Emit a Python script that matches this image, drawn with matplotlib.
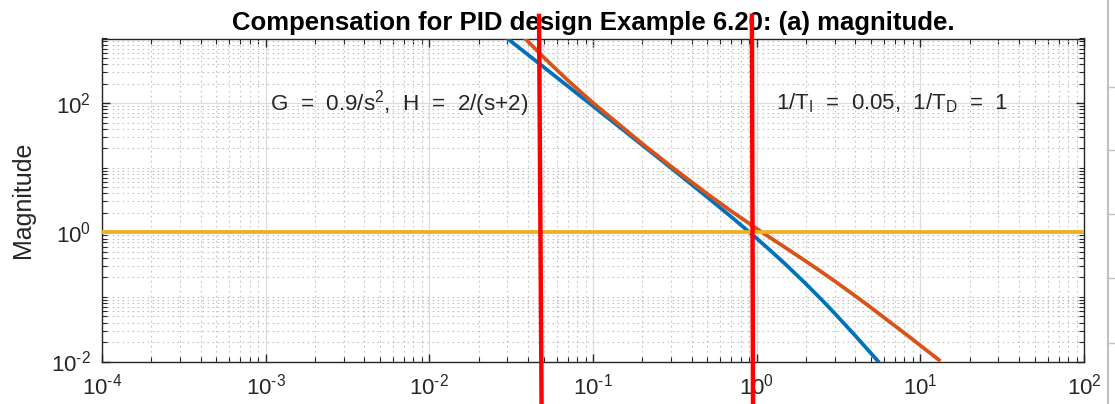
import matplotlib
matplotlib.use("Agg")
import numpy as np
from matplotlib import pyplot as plt
from matplotlib.lines import Line2D
from matplotlib.ticker import LogLocator, FixedLocator, NullFormatter, FuncFormatter

plt.rcParams['font.family'] = ['Liberation Sans', 'DejaVu Sans']
plt.rcParams['mathtext.fontset'] = 'custom'
plt.rcParams['mathtext.rm'] = 'Liberation Sans'
plt.rcParams['mathtext.it'] = 'Liberation Sans:italic'
plt.rcParams['mathtext.bf'] = 'Liberation Sans:bold'
plt.rcParams['axes.unicode_minus'] = False

# uncompensated loop |G H|
w_gh = [0.03, 0.05, 0.1, 0.2, 0.3, 0.5, 0.7, 1.0, 1.2, 1.5, 2.0, 2.5, 3.0, 4.0, 5.5]
mag_gh = [1000, 360, 90, 22.4, 9.89, 3.49, 1.734, 0.805, 0.536, 0.32, 0.159,
          0.090, 0.0555, 0.02516, 0.01017]

# compensated loop
w_comp = [0.038, 0.05, 0.07, 0.1, 0.2, 0.3, 0.5, 0.7, 1.0, 1.2, 1.5, 2.0, 2.5,
          3.0, 4.0, 5.0, 8.0, 13.0]
mag_comp = [1030, 509.6, 226.1, 101.0, 23.54, 10.47, 3.92, 2.122, 1.14, 0.838,
            0.577, 0.356, 0.242, 0.1755, 0.1037, 0.0682, 0.0275, 0.01056]

# unity line
w_unit = [1e-4, 1e2]
mag_unit = [1, 1]

# hand drawn red marks (top x, bottom x) at 1/T_I and 1/T_D
red_marks = [(0.0468, 0.0485), (0.935, 0.95)]


def dec_label(v, pos):
    e = int(round(np.log10(v)))
    if e < 0:
        return r'$\mathdefault{10^{\text{-}%d}}$' % (-e)
    return r'$\mathdefault{10^{%d}}$' % e


fig = plt.figure(figsize=(11.15, 4.04), dpi=100)
ax = fig.add_axes([102/1115, 1-361.5/404, (1084-102)/1115, (361.5-38.5)/404])

ax.loglog(w_gh, mag_gh, color='#0072BD', lw=2.7, zorder=3)
ax.loglog(w_comp, mag_comp, color='#D95319', lw=2.7, zorder=3)
ax.loglog(w_unit, mag_unit, color='#EDB120', lw=2.7, zorder=3)

ax.set_xlim(1e-4, 1e2)
ax.set_ylim(1e-2, 1e3)

ax.xaxis.set_major_locator(LogLocator(base=10, numticks=10))
ax.yaxis.set_major_locator(FixedLocator([1e-2, 1, 1e2]))
ax.xaxis.set_major_formatter(FuncFormatter(dec_label))
ax.yaxis.set_major_formatter(FuncFormatter(dec_label))
ax.xaxis.set_minor_locator(LogLocator(base=10, subs=range(2, 10), numticks=20))
ax.yaxis.set_minor_locator(LogLocator(base=10, subs=range(1, 10), numticks=20))
ax.yaxis.set_minor_formatter(NullFormatter())
ax.xaxis.set_minor_formatter(NullFormatter())

ax.grid(True, which='major', color='#dcdcdc', lw=0.9, ls='-')
ax.grid(True, which='minor', color='#c2c2c2', lw=0.8, ls=(0, (1.5, 3)))
ax.set_axisbelow(True)

ax.tick_params(which='both', direction='in', top=True, right=True,
               colors='#262626', labelsize=16)
ax.tick_params(axis='x', which='major', pad=9)
ax.tick_params(axis='y', which='major', pad=8)
ax.tick_params(which='major', length=6, width=1)
ax.tick_params(which='minor', length=3.5, width=0.8)
for s in ax.spines.values():
    s.set_color('#262626')
    s.set_linewidth(1)

ax.set_ylabel('Magnitude', fontsize=18, color='#262626')
ax.yaxis.set_label_coords(-0.068, 0.5)
ax.set_title('Compensation for PID design Example 6.20: (a) magnitude.',
             fontsize=18.5, fontweight='bold', pad=6)

ax.text(1.07e-3, 100, 'G  =  0.9/s$^2$,  H  =  2/(s+2)', fontsize=16.2,
        va='center', ha='left', color='#262626')
ax.text(1.31, 100, r'1/T$_\mathrm{I}$  =  0.05,  1/T$_\mathrm{D}$  =  1',
        fontsize=16, va='center', ha='left', color='#262626')

# red marks drawn over the whole figure height
for xt, xb in red_marks:
    ax.plot([xt, xb], [10**3.35, 10**-2.68], color='red', lw=3.2, clip_on=False,
            zorder=10)

# edge of neighbouring panel
fig.add_artist(Line2D([1108/1115, 1108/1115], [0, 1], color='#c0c0c0', lw=1.5))
for yy in [87, 150, 214, 278, 343]:
    fig.add_artist(Line2D([1108/1115, 1], [1-yy/404, 1-yy/404], color='#c0c0c0', lw=1))

fig.savefig('out.png', dpi=100)
